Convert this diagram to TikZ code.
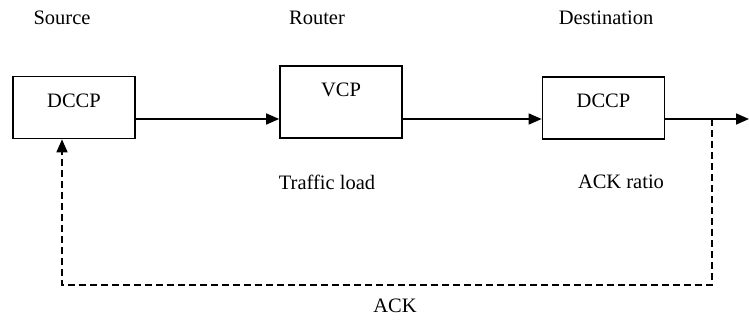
\documentclass[tikz,border=0pt]{standalone}
\usepackage{fontspec}
\setmainfont{Liberation Serif}
\usetikzlibrary{arrows.meta}
\begin{document}
\begin{tikzpicture}[x=1pt,y=-1pt,
  font=\fontsize{20.5}{23}\selectfont,
  block/.style={draw,line width=1.7pt,minimum width=122pt,inner sep=0pt},
  flow/.style={line width=1.6pt,-{Triangle[length=13pt,width=11pt]}},
  feedback/.style={line width=1.6pt,dash pattern=on 7pt off 4pt,-{Triangle[length=13pt,width=11pt]}},
  caption/.style={inner sep=0pt}]
\useasboundingbox (0,0) rectangle (749,321);
% protocol blocks
\node[block,minimum height=62pt] (src) at (74,107.5) {};
\node[caption] at (74,101) {DCCP};
\node[block,minimum height=72pt] (rtr) at (341,102) {};
\node[caption] at (341,90) {VCP};
\node[block,minimum height=62pt] (dst) at (603.5,108) {};
\node[caption] at (603.5,101) {DCCP};
% column headings
\node[caption] (hsrc) at (62,18) {Source};
\node[caption] (hrtr) at (317,18) {Router};
\node[caption] (hdst) at (606,18) {Destination};
% annotations
\node[caption] (load) at (327,182) {Traffic load};
\node[caption] (ratio) at (621,182) {ACK ratio};
\node[caption] (ack) at (395,306) {ACK};
% forward path
\coordinate (out) at (749,119);
\coordinate (tap) at (712,119);
\coordinate (c1) at (712,285);
\coordinate (c2) at (62,285);
\draw[flow] (src.east |- 0,119) -- (rtr.west |- 0,119);
\draw[flow] (rtr.east |- 0,119) -- (dst.west |- 0,119);
\draw[flow] (dst.east |- 0,119) -- (out);
% acknowledgement feedback
\draw[feedback] (tap) -- (c1) -- (c2) -- (c2 |- src.south);
\end{tikzpicture}
\end{document}
